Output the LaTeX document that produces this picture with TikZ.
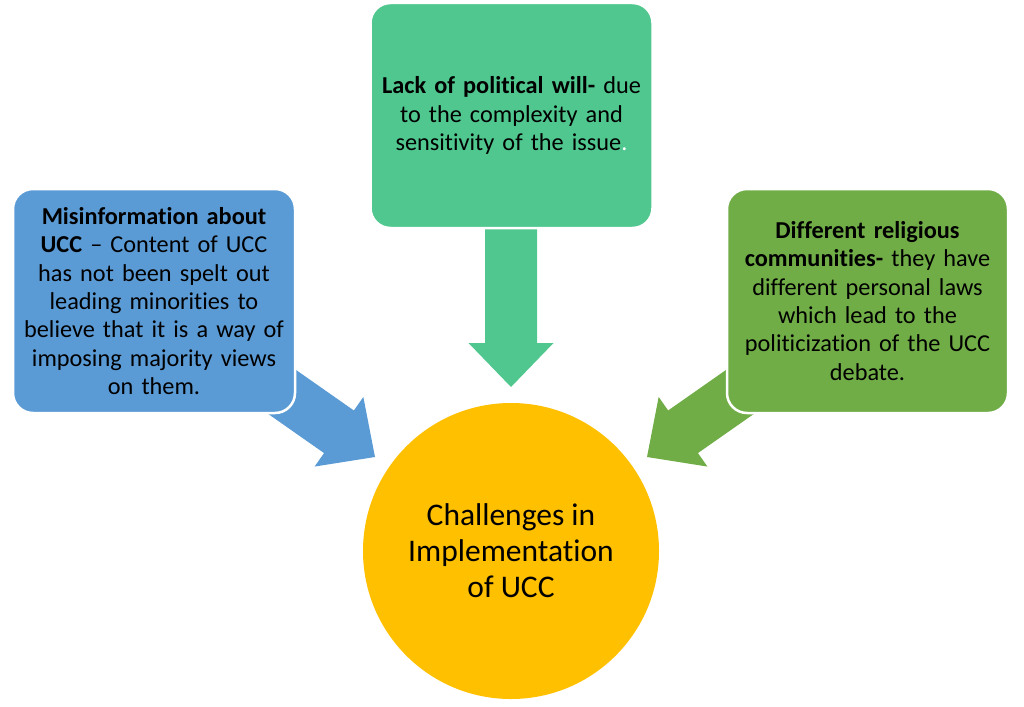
\documentclass[tikz,border=0pt]{standalone}
\usepackage{fontspec}
\setmainfont{Carlito}[Ligatures={NoCommon}]
\definecolor{cblue}{HTML}{5B9BD5}
\definecolor{cteal}{HTML}{50C78E}
\definecolor{cgreen}{HTML}{70AD47}
\definecolor{cgold}{HTML}{FFC000}
\tikzset{
  box/.style={draw=white, line width=2.5pt, rounded corners=20pt, minimum width=282pt, minimum height=225pt, text width=275pt, align=center, inner sep=0pt, font=\fontsize{24.3}{28.3}\selectfont},
  hub/.style={circle, fill=cgold, draw=none, minimum size=296pt, inner sep=0pt, align=center, font=\fontsize{31.5}{36}\selectfont}
}
\newcommand{\myarrow}[4]{% tip coordinate, angle, length, colour
  \begin{scope}[shift={(#1)}, rotate=#2]
    \fill[#4] (0,0) -- (-44,42.5) -- (-44,26) -- (-#3,26) -- (-#3,-26) -- (-44,-26) -- (-44,-42.5) -- cycle;
  \end{scope}}
\begin{document}
\begin{tikzpicture}[x=1pt,y=1pt]
\useasboundingbox (0,0) rectangle (1024,-706);
\coordinate (tipT) at (511,-387);
\coordinate (tipL) at (375,-457);
\coordinate (tipR) at (647,-457);
\myarrow{tipT}{-90}{158}{cteal}
\myarrow{tipL}{-35}{150}{cblue}
\myarrow{tipR}{-145}{150}{cgreen}
\node[box, fill=cteal] (top) at (511.5,-115.5) {\textbf{Lack of political will-} due\\to the complexity and\\sensitivity of the issue\textcolor{white}{.}};
\node[box, fill=cblue, minimum height=224pt] (left) at (154,-301) {\textbf{Misinformation about}\\\textbf{UCC} -- Content of UCC\\has not been spelt out\\leading minorities to\\believe that it is a way of\\imposing majority views\\on them.};
\node[box, fill=cgreen, minimum height=224pt, minimum width=281pt] (right) at (867.5,-301) {\textbf{Different religious}\\\textbf{communities-} they have\\different personal laws\\which lead to the\\politicization of the UCC\\debate.};
\node[hub] (hub) at (511,-551) {Challenges in\\Implementation\\of UCC};
\end{tikzpicture}
\end{document}
